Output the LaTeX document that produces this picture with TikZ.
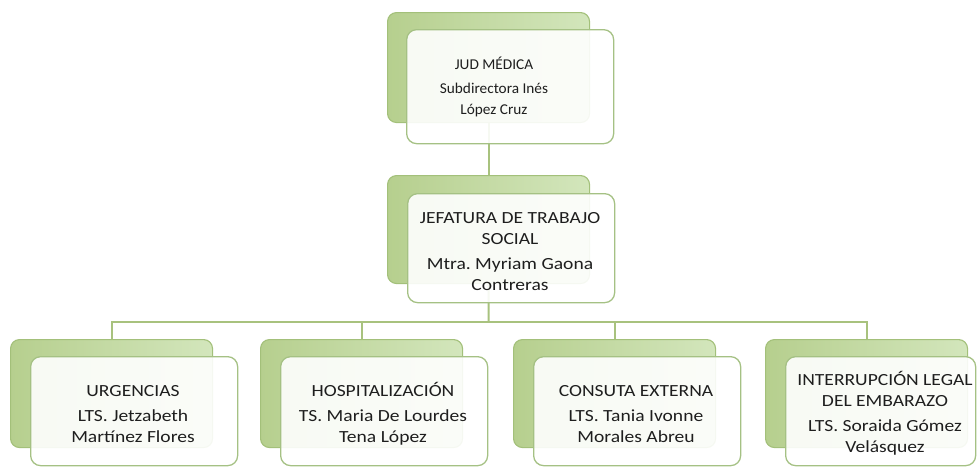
\documentclass[tikz,border=0pt]{standalone}
\usepackage{fontspec}
\setmainfont{Carlito}[FakeStretch=1.15]
\newfontfamily\topfont{Carlito}[FakeStretch=1.02]
\frenchspacing
\definecolor{lineG}{HTML}{A8C27E}
\definecolor{backBorder}{HTML}{A3C07A}
\definecolor{backL}{HTML}{B6CF8E}
\definecolor{backR}{HTML}{D3E6BC}
\definecolor{frontBorder}{HTML}{A5C184}
\definecolor{txtC}{HTML}{1E1E1E}
\begin{document}
\begin{tikzpicture}[x=1pt,y=-1pt,
  backbox/.style={draw=backBorder, line width=1.1pt, rounded corners=9pt,
    left color=backL, right color=backR, anchor=north west, inner sep=0pt,
    minimum width=202pt, minimum height=108pt},
  frontbox/.style={draw=frontBorder, line width=1.3pt, rounded corners=10pt,
    fill=white, fill opacity=0.9, anchor=north west, inner sep=0pt,
    minimum width=207pt, minimum height=109pt},
  conn/.style={draw=lineG, line width=2pt},
  txt/.style={align=center, text=txtC, inner sep=0pt,
    font=\fontsize{17}{21}\selectfont},
  txtsmall/.style={txt, font=\topfont\fontsize{15}{21.5}\selectfont}
]
\useasboundingbox (0,0) rectangle (977,466);

% back boxes
\node[backbox, minimum height=110pt] (bT) at (387,12) {};
\node[backbox] (bM) at (387,175) {};
\node[backbox] (b1) at (10,339) {};
\node[backbox] (b2) at (260,339) {};
\node[backbox] (b3) at (513,339) {};
\node[backbox] (b4) at (765,339) {};

% connectors
\coordinate (bus) at (488.5,322);
\draw[conn] (bT.south) -- (bM.north);
\draw[conn] (bM.south) -- (bus);
\draw[conn] (b1.north) |- (bus) -| (b4.north);
\draw[conn] (b2.north) -- (b2.north |- bus);
\draw[conn] (b3.north) -- (b3.north |- bus);

% front boxes
\node[frontbox, minimum height=114pt] (fT) at (406,29) {};
\node[frontbox] (fM) at (407,193) {};
\node[frontbox] (f1) at (30,356) {};
\node[frontbox] (f2) at (280,356) {};
\node[frontbox] (f3) at (533,356) {};
\node[frontbox, minimum width=190pt] (f4) at (785,356) {};

% texts
\node[txtsmall] (tT) at (494,87) {JUD MÉDICA\\[2pt]Subdirectora Inés\\López Cruz};
\node[txt] (tM) at (510,252) {JEFATURA DE TRABAJO\\SOCIAL\\[4pt]Mtra. Myriam Gaona\\Contreras};
\node[txt] (t1) at (133,414) {URGENCIAS\\[4pt]LTS. Jetzabeth\\Martínez Flores};
\node[txt] (t2) at (383,414) {HOSPITALIZACIÓN\\[4pt]TS. Maria De Lourdes\\Tena López};
\node[txt] (t3) at (636,414) {CONSUTA EXTERNA\\[4pt]LTS. Tania Ivonne\\Morales Abreu};
\node[txt] (t4) at (885,413) {INTERRUPCIÓN LEGAL\\DEL EMBARAZO\\[4pt]LTS. Soraida Gómez\\Velásquez};
\end{tikzpicture}
\end{document}
